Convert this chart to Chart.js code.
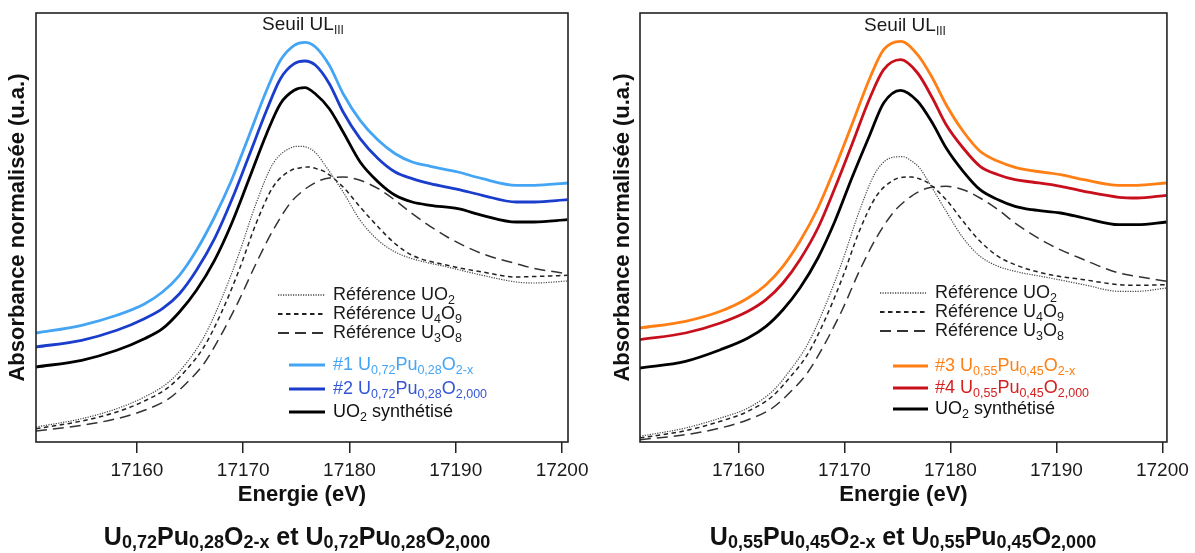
<!DOCTYPE html>
<html>
<head>
<meta charset="utf-8">
<script src="https://cdn.jsdelivr.net/npm/chart.js@4.4.1/dist/chart.umd.min.js"></script>
<style>
  html, body { margin:0; padding:0; background:#fff; }
  body { width:1195px; height:553px; position:relative; overflow:hidden; font-family:"Liberation Sans", Arial, sans-serif; }
  .cv { position:absolute; top:0; }
  .ov { position:absolute; white-space:nowrap; color:#1a1a1a; }
  .leg { font-size:18px; line-height:20px; }
  .leg sub { font-size:12.5px; vertical-align:-4px; line-height:0; }
  .seuil { font-size:19px; line-height:22px; transform:translateX(-50%); }
  .seuil sub { font-size:12px; vertical-align:-4px; line-height:0; }
  .btitle { font-size:25px; font-weight:bold; line-height:28px; transform:translateX(-50%); color:#111; }
  .btitle sub { font-size:18px; vertical-align:-3px; line-height:0; }
  svg.sw { position:absolute; overflow:visible; }
</style>
</head>
<body>
<canvas id="cA" class="cv" width="600" height="553" style="left:0px;width:600px;height:553px"></canvas>
<canvas id="cB" class="cv" width="595" height="553" style="left:600px;width:595px;height:553px"></canvas>
<div id="overlay"></div>
<script>
// ---------- DATA ----------
const energyTicks = [17160, 17170, 17180, 17190, 17200];

// Left panel : U0,72Pu0,28O2
const eSampleA = [17150.5, 17154.8, 17158.1, 17160.7, 17162.4, 17164.0, 17165.6, 17167.3, 17168.9, 17170.5, 17172.2, 17173.5, 17174.8, 17175.8, 17176.8, 17178.1, 17179.4, 17181.0, 17182.7, 17184.3, 17185.9, 17187.6, 17190.2, 17192.5, 17195.7, 17197.4, 17200.5];
const sample1 = [109, 116.7, 126.7, 138, 150, 166.7, 191.7, 225, 261.7, 305, 351.7, 381.7, 396.7, 399.7, 395, 376.7, 348.3, 321.7, 301.7, 288.3, 280, 275.7, 270, 263.3, 256.7, 256.7, 259];
const sample2 = [95, 101.7, 111.7, 123.3, 133.3, 148.3, 171.7, 203.3, 241.7, 285, 331.7, 363.3, 378.3, 381, 376.7, 358.3, 330, 303.3, 283.3, 270, 263.3, 258.3, 252.7, 246.7, 240, 240, 242.3];
const uo2SynthA = [75, 81.7, 91.7, 103.3, 113.3, 130, 151.7, 181.7, 218.3, 261.7, 308.3, 338.3, 351.7, 354.3, 348, 333.3, 310, 280, 260, 246.7, 240, 236.7, 233.3, 226.7, 220, 220, 222.3];
const eRefA = [17150.5, 17154.8, 17158.1, 17160.7, 17163.0, 17164.6, 17166.3, 17167.9, 17169.6, 17171.2, 17172.8, 17174.5, 17175.3, 17176.1, 17176.9, 17177.7, 17179.4, 17181.0, 17182.7, 17184.3, 17185.9, 17189.2, 17192.5, 17195.7, 17197.4, 17200.5];
const refUO2A = [15, 23.3, 33.3, 45, 60, 78.3, 105, 141.7, 188.3, 238.3, 278.3, 294.3, 295.7, 294.3, 288.3, 276.7, 250, 221.7, 201.7, 190, 183.3, 175, 166.7, 160, 159, 161];
const refU4O9A = [13.3, 21, 30, 41, 55, 71.7, 95, 128.3, 171.7, 218.3, 255, 271.7, 274, 275, 273.3, 270, 255, 235, 215, 198.3, 186.7, 176.7, 170, 165, 165.5, 166.7];
const refU3O8A = [11, 16.7, 23.3, 31.7, 43.3, 58.3, 78.3, 106.7, 141.7, 178.3, 211.7, 240, 248.3, 255, 260, 263.3, 265, 261.7, 253.3, 241.7, 228.3, 205, 188.3, 178.3, 173.5, 168.3];

// Right panel : U0,55Pu0,45O2
const eSampleB = [17150.7, 17155.0, 17158.3, 17160.9, 17162.6, 17164.2, 17165.8, 17167.5, 17169.1, 17170.7, 17172.4, 17173.7, 17175.3, 17176.9, 17178.3, 17179.6, 17181.2, 17182.8, 17184.5, 17186.1, 17187.7, 17190.4, 17192.6, 17195.9, 17197.6, 17200.4];
const sample3 = [114, 120.7, 130.7, 144, 157.3, 175.7, 200.7, 234, 274, 317.3, 364, 392.3, 400.7, 387.3, 364, 337.3, 310.7, 290.7, 280.7, 274.7, 271.3, 267.3, 262.3, 256.7, 256.7, 259];
const sample4 = [102.3, 109, 119, 130.7, 142.3, 159, 182.3, 214, 254, 297.3, 344, 372.3, 382.3, 369, 344, 317.3, 294, 275.7, 267.3, 262.3, 260, 255.7, 250.7, 244.7, 244, 246.7];
const uo2SynthB = [74, 80.7, 92.3, 104, 115.7, 132.3, 154, 184, 220.7, 264, 307.3, 339, 351.7, 340.7, 319, 294, 270.7, 252.3, 242.3, 235.7, 232.3, 229, 224, 217.3, 217.3, 220];
const eRefB = [17150.7, 17155.0, 17158.3, 17160.9, 17163.2, 17164.8, 17166.5, 17168.1, 17169.8, 17171.4, 17173.0, 17174.7, 17175.5, 17176.3, 17177.1, 17177.9, 17179.6, 17181.2, 17182.8, 17184.5, 17186.1, 17189.4, 17192.6, 17195.9, 17197.6, 17200.4];
const refUO2B = [5.7, 14, 24, 34, 50.7, 70.7, 97.3, 134, 180.7, 230.7, 270.7, 285, 285.3, 281.3, 274, 260.7, 230.7, 204, 185.7, 175.7, 170.7, 164, 157.3, 150.7, 150.7, 154];
const refU4O9B = [4, 11.3, 20.7, 30.7, 45.7, 64, 87.3, 120.7, 164, 210.7, 245.7, 262.3, 264.7, 265, 263, 259, 242.3, 220.7, 200.7, 185.7, 177.3, 167.3, 162.3, 157.3, 156.7, 157.3];
const refU3O8B = [2.3, 7.3, 14, 22.3, 34, 49, 69, 97.3, 132.3, 170.7, 204, 230.7, 239, 245.7, 250.7, 254, 255.7, 252.3, 244, 232.3, 219, 197.3, 182.3, 169, 165.7, 160.7];

// Labels
const refLabels = ['Référence UO<sub>2</sub>', 'Référence U<sub>4</sub>O<sub>9</sub>', 'Référence U<sub>3</sub>O<sub>8</sub>'];
const sampleLabelsA = ['#1 U<sub>0,72</sub>Pu<sub>0,28</sub>O<sub>2-x</sub>', '#2 U<sub>0,72</sub>Pu<sub>0,28</sub>O<sub>2,000</sub>', 'UO<sub>2</sub> synthétisé'];
const sampleLabelsB = ['#3 U<sub>0,55</sub>Pu<sub>0,45</sub>O<sub>2-x</sub>', '#4 U<sub>0,55</sub>Pu<sub>0,45</sub>O<sub>2,000</sub>', 'UO<sub>2</sub> synthétisé'];
const titleA = 'U<sub>0,72</sub>Pu<sub>0,28</sub>O<sub>2-x</sub> et U<sub>0,72</sub>Pu<sub>0,28</sub>O<sub>2,000</sub>';
const titleB = 'U<sub>0,55</sub>Pu<sub>0,45</sub>O<sub>2-x</sub> et U<sub>0,55</sub>Pu<sub>0,45</sub>O<sub>2,000</sub>';
const edgeLabel = 'Seuil UL<sub>III</sub>';
const xTitle = 'Energie (eV)';
const yTitle = 'Absorbance normalisée (u.a.)';

// ---------- STYLES ----------
const refStyles = [
  { color:'#444', width:1.2, dash:[1.2,1.3] },
  { color:'#222', width:1.5, dash:[4.5,3.5] },
  { color:'#333', width:1.5, dash:[11,6] }
];
const sampleColorsA = ['#45a5f5', '#1a3dcc', '#000000'];
const sampleTextA = ['#45a5f5', '#3355d6', '#111111'];
const sampleColorsB = ['#ff7f14', '#c8101c', '#000000'];
const sampleTextB = ['#ff7f14', '#d42020', '#111111'];

function pts(xs, ys){ return xs.map((x,i)=>({x:x, y:ys[i]})); }

const boxPlugin = {
  id:'box',
  afterDatasetsDraw(chart){
    const {ctx, chartArea:a} = chart;
    ctx.save();
    ctx.strokeStyle = '#222';
    ctx.lineWidth = 1.6;
    ctx.strokeRect(a.left, a.top, a.right - a.left, a.bottom - a.top);
    ctx.restore();
  }
};

function makeChart(id, eS, samples, sColors, eR, refs, cfg){
  const datasets = [];
  refs.forEach((r,i)=>{
    datasets.push({ data: pts(eR, r), borderColor: refStyles[i].color, borderWidth: refStyles[i].width,
      borderDash: refStyles[i].dash, pointRadius:0, fill:false, cubicInterpolationMode:'monotone' });
  });
  samples.slice().reverse().forEach((s,k)=>{
    const i = samples.length - 1 - k;
    datasets.push({ data: pts(eS, s), borderColor: sColors[i], borderWidth: 2.8,
      pointRadius:0, fill:false, cubicInterpolationMode:'monotone' });
  });
  return new Chart(document.getElementById(id), {
    type:'line',
    data:{ datasets },
    options:{
      responsive:false, animation:false, events:[],
      layout:{ padding:{ left:0, top:13, right:cfg.padRight, bottom:45 } },
      plugins:{ legend:{display:false}, tooltip:{enabled:false} },
      scales:{
        x:{
          type:'linear', min:cfg.xmin, max:cfg.xmax,
          afterBuildTicks(scale){ scale.ticks = energyTicks.map(v=>({value:v})); },
          afterFit(scale){ scale.height = 66; },
          ticks:{ color:'#1a1a1a', font:{ family:'"Liberation Sans", Arial, sans-serif', size:19 }, padding:6, maxRotation:0,
                  callback:(v)=>String(v) },
          grid:{ display:true, drawOnChartArea:false, drawTicks:true, tickLength:11, color:'#222', lineWidth:1.5 },
          border:{ display:false },
          title:{ display:true, text:xTitle, color:'#111', padding:{top:0,bottom:0},
                  font:{ family:'"Liberation Sans", Arial, sans-serif', size:22, weight:'bold' } }
        },
        y:{
          type:'linear', min:0, max:429,
          afterFit(scale){ scale.width = cfg.yWidth; },
          ticks:{ display:false },
          grid:{ display:false },
          border:{ display:false },
          title:{ display:true, text:yTitle, color:'#111', padding:{top:cfg.yTitlePad, bottom:0},
                  font:{ family:'"Liberation Sans", Arial, sans-serif', size:22, weight:'bold' } }
        }
      }
    },
    plugins:[boxPlugin]
  });
}

makeChart('cA', eSampleA, [sample1, sample2, uo2SynthA], sampleColorsA, eRefA, [refUO2A, refU4O9A, refU3O8A],
  { xmin:17150.5, xmax:17200.56, padRight:32, yWidth:36, yTitlePad:4.8 });
makeChart('cB', eSampleB, [sample3, sample4, uo2SynthB], sampleColorsB, eRefB, [refUO2B, refU4O9B, refU3O8B],
  { xmin:17150.71, xmax:17200.43, padRight:24.3, yWidth:40, yTitlePad:9.8 });

// ---------- HTML overlays (text with subscripts) ----------
const ov = document.getElementById('overlay');
function addText(cls, html, left, top, color){
  const d = document.createElement('div');
  d.className = 'ov ' + cls;
  d.innerHTML = html;
  d.style.left = left + 'px';
  d.style.top = top + 'px';
  if (color) d.style.color = color;
  ov.appendChild(d);
}
function addSwatch(x1, x2, y, color, width, dash){
  const ns = 'http://www.w3.org/2000/svg';
  const svg = document.createElementNS(ns, 'svg');
  svg.setAttribute('class','sw');
  svg.setAttribute('width', x2 - x1);
  svg.setAttribute('height', 10);
  svg.style.left = x1 + 'px';
  svg.style.top = (y - 5) + 'px';
  const l = document.createElementNS(ns, 'line');
  l.setAttribute('x1', 0); l.setAttribute('x2', x2 - x1);
  l.setAttribute('y1', 5); l.setAttribute('y2', 5);
  l.setAttribute('stroke', color);
  l.setAttribute('stroke-width', width);
  if (dash) l.setAttribute('stroke-dasharray', dash.join(' '));
  svg.appendChild(l);
  ov.appendChild(svg);
}
function legend(L){
  L.refRows.forEach((y,i)=>{
    addSwatch(L.refX1, L.refX2, y, refStyles[i].color, refStyles[i].width + 0.3, refStyles[i].dash);
    addText('leg', refLabels[i], L.textX, y - 11);
  });
  L.sRows.forEach((y,i)=>{
    addSwatch(L.sX1, L.sX2, y, L.colors[i], 3, null);
    addText('leg', L.labels[i], L.textX, y - 11, L.textColors[i]);
  });
}
legend({ refRows:[295, 314, 333], sRows:[365, 389, 412], refX1:278, refX2:325, sX1:289, sX2:325, textX:333,
         colors:sampleColorsA, textColors:sampleTextA, labels:sampleLabelsA });
legend({ refRows:[293, 312, 331], sRows:[366, 388, 409], refX1:880, refX2:926, sX1:893, sX2:928, textX:935,
         colors:sampleColorsB, textColors:sampleTextB, labels:sampleLabelsB });

addText('seuil', edgeLabel, 303, 13);
addText('seuil', edgeLabel, 905, 14);
addText('btitle', titleA, 297, 522);
addText('btitle', titleB, 903, 522);
</script>
</body>
</html>
